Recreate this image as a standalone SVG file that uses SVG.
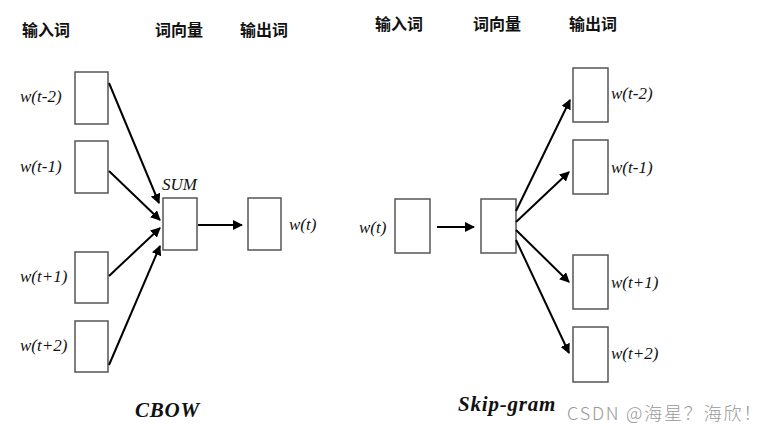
<svg xmlns="http://www.w3.org/2000/svg" width="766" height="433" viewBox="0 0 766 433">
<defs>
<marker id="ah" viewBox="0 0 10 10" refX="9" refY="5" markerWidth="10" markerHeight="10" markerUnits="userSpaceOnUse" orient="auto">
<path d="M0,0 L10,5 L0,10 z" fill="#000"/>
</marker>
<style>
.box{fill:#fff;stroke:#555;stroke-width:1.5}
.hd{font-family:"Noto Sans CJK SC","Noto Sans",sans-serif;font-size:16px;font-weight:700;fill:#111}
.lb{font-family:"Liberation Serif",serif;font-style:italic;font-size:17px;fill:#111}
.tt{font-family:"Liberation Serif",serif;font-style:italic;font-weight:bold;font-size:21px;fill:#111;letter-spacing:0.8px}
.cn path,.cn line{stroke:#000;stroke-width:2;fill:none;marker-end:url(#ah)}
.wm{font-family:"Noto Sans CJK SC","Liberation Sans",sans-serif;font-size:18px;font-weight:300;fill:#999;letter-spacing:1.8px}
</style>
</defs>
<rect width="766" height="433" fill="#fff"/>
<g id="headers">
<text class="hd" x="22" y="36">输入词</text>
<text class="hd" x="155" y="36">词向量</text>
<text class="hd" x="240" y="36">输出词</text>
<text class="hd" x="375" y="30">输入词</text>
<text class="hd" x="473" y="30">词向量</text>
<text class="hd" x="569" y="30">输出词</text>
</g>
<g id="cbow-in-t-2"><rect class="box" x="75" y="72" width="33" height="52"/><text class="lb" x="20" y="102">w(t-2)</text></g>
<g id="cbow-in-t-1"><rect class="box" x="75" y="141" width="33" height="52"/><text class="lb" x="20" y="172">w(t-1)</text></g>
<g id="cbow-in-t+1"><rect class="box" x="75" y="252" width="33" height="51"/><text class="lb" x="20" y="282">w(t+1)</text></g>
<g id="cbow-in-t+2"><rect class="box" x="75" y="321" width="33" height="51"/><text class="lb" x="20" y="351">w(t+2)</text></g>
<g id="cbow-sum"><rect class="box" x="163" y="198" width="34" height="52"/><text class="lb" x="162" y="190">SUM</text></g>
<g id="cbow-out"><rect class="box" x="248" y="198" width="33" height="52"/><text class="lb" x="289" y="230">w(t)</text></g>
<g id="sg-in"><rect class="box" x="395" y="199" width="35" height="54"/><text class="lb" x="359" y="233">w(t)</text></g>
<g id="sg-hidden"><rect class="box" x="481" y="199" width="35" height="54"/></g>
<g id="sg-out-t-2"><rect class="box" x="573" y="68" width="35" height="54"/><text class="lb" x="611" y="99">w(t-2)</text></g>
<g id="sg-out-t-1"><rect class="box" x="573" y="140" width="35" height="54"/><text class="lb" x="611" y="173">w(t-1)</text></g>
<g id="sg-out-t+1"><rect class="box" x="573" y="255" width="35" height="54"/><text class="lb" x="611" y="288">w(t+1)</text></g>
<g id="sg-out-t+2"><rect class="box" x="573" y="327" width="35" height="55"/><text class="lb" x="611" y="359">w(t+2)</text></g>
<g id="connectors" class="cn">
<line x1="109" y1="83" x2="159" y2="203"/>
<line x1="109" y1="171" x2="160" y2="220"/>
<line x1="109" y1="276" x2="160" y2="228"/>
<line x1="109" y1="365" x2="160" y2="246"/>
<line x1="198" y1="225" x2="242" y2="225"/>
<line x1="437" y1="227" x2="474" y2="227"/>
<line x1="516" y1="211" x2="570" y2="100"/>
<line x1="516" y1="222" x2="569" y2="172"/>
<line x1="516" y1="230" x2="569" y2="282"/>
<line x1="516" y1="240" x2="569" y2="353"/>
</g>
<g id="titles">
<text class="tt" x="135" y="417">CBOW</text>
<text class="tt" x="458" y="411">Skip-gram</text>
<text class="wm" x="567" y="420">CSDN @海星？海欣！</text>
</g>
</svg>
